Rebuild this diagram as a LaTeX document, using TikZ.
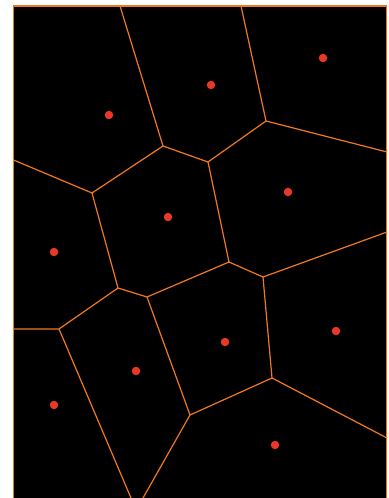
\documentclass[tikz,border=0pt]{standalone}
\begin{document}
\begin{tikzpicture}[x=1bp,y=-1bp,
  edge/.style={draw=vor, line width=1.2bp},
  site/.style={circle, fill=sitered, inner sep=0pt, minimum size=8.5bp}]
\definecolor{vor}{RGB}{240,120,30}
\definecolor{sitered}{RGB}{232,56,40}
\useasboundingbox (0,0) rectangle (388,498);
\begin{scope}
\clip (0,0) rectangle (388,498);
\fill[black] (13.5,6) rectangle (386.5,505);
% vertices
\coordinate (B) at (163,146);
\coordinate (C) at (208,162);
\coordinate (D) at (266,121);
\coordinate (F) at (92,193);
\coordinate (G) at (229,262);
\coordinate (H) at (118,288);
\coordinate (I) at (147,297);
\coordinate (J) at (263,277);
\coordinate (K) at (59,329);
\coordinate (L) at (190,415);
\coordinate (M) at (272,378);
% boundary points
\coordinate (t1) at (120,6);
\coordinate (t2) at (241,6);
\coordinate (r1) at (387,152);
\coordinate (r2) at (387,232);
\coordinate (r3) at (387,438);
\coordinate (l1) at (13.5,160);
\coordinate (l2) at (13.5,329);
\coordinate (b1) at (131,498);
\coordinate (b2) at (143,498);
\draw[edge] (t1) -- (B) -- (C) -- (D) -- (t2);
\draw[edge] (D) -- (r1);
\draw[edge] (B) -- (F) -- (l1);
\draw[edge] (F) -- (H) -- (I) -- (G) -- (C);
\draw[edge] (G) -- (J) -- (r2);
\draw[edge] (J) -- (M) -- (r3);
\draw[edge] (H) -- (K) -- (l2);
\draw[edge] (K) -- (b1);
\draw[edge] (I) -- (L) -- (M);
\draw[edge] (L) -- (b2);
\draw[draw=vor, line width=1.2bp] (13.5,505) -- (13.5,6) -- (386.5,6) -- (386.5,505);
\end{scope}
\node[site] (s1) at (109,115) {};
\node[site] (s2) at (211,85) {};
\node[site] (s3) at (323,58) {};
\node[site] (s4) at (288,192) {};
\node[site] (s5) at (168,217) {};
\node[site] (s6) at (54,252) {};
\node[site] (s7) at (225,342) {};
\node[site] (s8) at (336,331) {};
\node[site] (s9) at (136,371) {};
\node[site] (s10) at (54,405) {};
\node[site] (s11) at (275,445) {};
\end{tikzpicture}
\end{document}
